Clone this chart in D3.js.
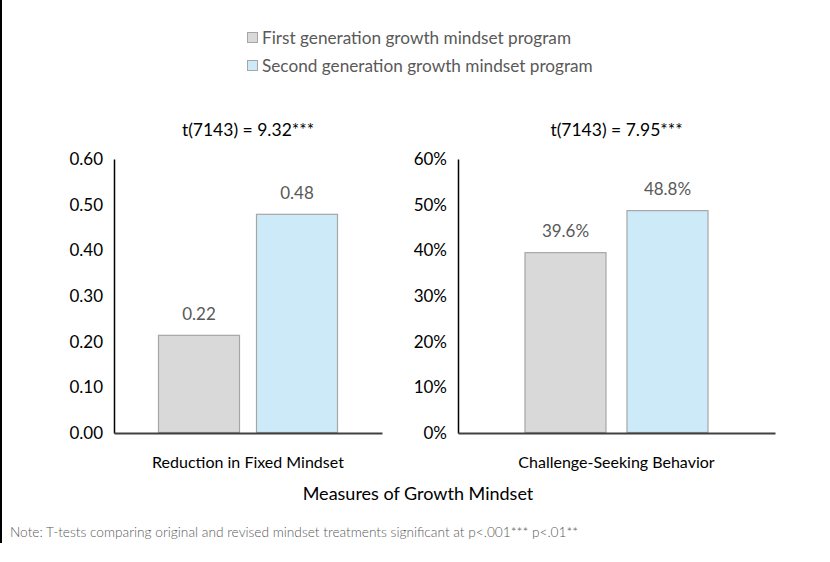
<!DOCTYPE html>
<html>
<head>
<meta charset="utf-8">
<script src="https://cdn.jsdelivr.net/npm/d3@7"></script>
<style>
  body { margin: 0; background: #fff; }
  text { font-family: Lato, "Open Sans", sans-serif; }
</style>
</head>
<body>
<svg id="chart"></svg>
<script>
const WIDTH = 830;
const HEIGHT = 562;

// data
const programs = ["First generation growth mindset program", "Second generation growth mindset program"];
const measures = ["Reduction in Fixed Mindset", "Challenge-Seeking Behavior"];
const tTests = ["t(7143) = 9.32***", "t(7143) = 7.95***"];
const fixedMindset = [0.215, 0.48];
const fixedLabels = ["0.22", "0.48"];
const challengeSeeking = [0.396, 0.488];
const challengeLabels = ["39.6%", "48.8%"];
const yTicks = [0, 0.1, 0.2, 0.3, 0.4, 0.5, 0.6];

const fills = ["#d9d9d9", "#cdeaf8"];

const svg = d3.select("#chart")
  .attr("width", WIDTH)
  .attr("height", HEIGHT);

// left frame line
svg.append("line")
  .attr("x1", 1).attr("x2", 1)
  .attr("y1", 0).attr("y2", 543)
  .attr("stroke", "#000")
  .attr("stroke-width", 2);

// legend
const legend = svg.append("g").attr("transform", "translate(247,0)");
programs.forEach((p, i) => {
  const y = 38 + i * 28;
  legend.append("rect")
    .attr("x", 0.5).attr("y", y - 5.5)
    .attr("width", 10).attr("height", 10)
    .attr("fill", fills[i])
    .attr("stroke", "#a6a6a6");
  legend.append("text")
    .attr("x", 15).attr("y", y)
    .attr("dy", "0.35em")
    .attr("font-size", 17.2)
    .attr("fill", "#595959")
    .text(p);
});

const yScale = d3.scaleLinear().domain([0, 0.6]).range([433, 159]);

const panels = [
  { values: fixedMindset, labels: fixedLabels, fmt: d3.format(".2f"), x0: 114, x1: 382,
    pIn: 0.163, pOut: 0.449, measure: measures[0], title: tTests[0] },
  { values: challengeSeeking, labels: challengeLabels, fmt: d3.format(".0%"), x0: 458, x1: 775,
    pIn: 0.196, pOut: 0.652, measure: measures[1], title: tTests[1] }
];

panels.forEach(pn => {
  const g = svg.append("g");
  const cx = (pn.x0 + pn.x1) / 2;
  const xScale = d3.scaleBand()
    .domain(programs)
    .range([pn.x0, pn.x1])
    .paddingInner(pn.pIn)
    .paddingOuter(pn.pOut);
  const barsMid = (xScale(programs[0]) + xScale(programs[1]) + xScale.bandwidth()) / 2;

  g.selectAll("rect.bar")
    .data(pn.values)
    .join("rect")
    .attr("class", "bar")
    .attr("x", (d, i) => xScale(programs[i]) + 0.5)
    .attr("y", d => yScale(d) + 0.5)
    .attr("width", xScale.bandwidth() - 1)
    .attr("height", d => yScale(0) - yScale(d) - 1)
    .attr("fill", (d, i) => fills[i])
    .attr("stroke", "#a6a6a6")
    .attr("stroke-width", 1.2);

  g.selectAll("text.val")
    .data(pn.values)
    .join("text")
    .attr("class", "val")
    .attr("x", (d, i) => xScale(programs[i]) + xScale.bandwidth() / 2)
    .attr("y", d => yScale(d) - 21)
    .attr("dy", "0.35em")
    .attr("text-anchor", "middle")
    .attr("font-size", 17)
    .attr("fill", "#595959")
    .text((d, i) => pn.labels[i]);

  // y axis
  const yAxis = g.append("g")
    .attr("transform", `translate(${pn.x0},0)`)
    .call(d3.axisLeft(yScale).tickValues(yTicks).tickFormat(pn.fmt).tickSize(0).tickPadding(11));
  yAxis.select(".domain").attr("stroke", "#000").attr("stroke-width", 1.5);
  yAxis.selectAll("text")
    .attr("font-size", 17)
    .attr("fill", "#000")
    .style("font-family", "Lato, sans-serif");

  // x baseline
  const xAxis = g.append("g")
    .attr("transform", `translate(0,${yScale(0)})`)
    .call(d3.axisBottom(xScale).tickSize(0).tickFormat(""));
  xAxis.select(".domain").attr("stroke", "#404040").attr("stroke-width", 2);

  g.append("text")
    .attr("x", barsMid).attr("y", 130)
    .attr("dy", "0.35em")
    .attr("text-anchor", "middle")
    .attr("font-size", 17.5)
    .attr("fill", "#000")
    .text(pn.title);

  g.append("text")
    .attr("x", cx).attr("y", 462)
    .attr("dy", "0.35em")
    .attr("text-anchor", "middle")
    .attr("font-size", 16)
    .attr("fill", "#000")
    .text(pn.measure);
});

svg.append("text")
  .attr("x", 418).attr("y", 494)
  .attr("dy", "0.35em")
  .attr("text-anchor", "middle")
  .attr("font-size", 18)
  .attr("fill", "#000")
  .text("Measures of Growth Mindset");

svg.append("text")
  .attr("x", 10).attr("y", 532)
  .attr("dy", "0.35em")
  .attr("font-size", 13.7)
  .attr("font-weight", 300)
  .attr("fill", "#595959")
  .text("Note: T-tests comparing original and revised mindset treatments significant at p<.001*** p<.01**");
</script>
</body>
</html>
